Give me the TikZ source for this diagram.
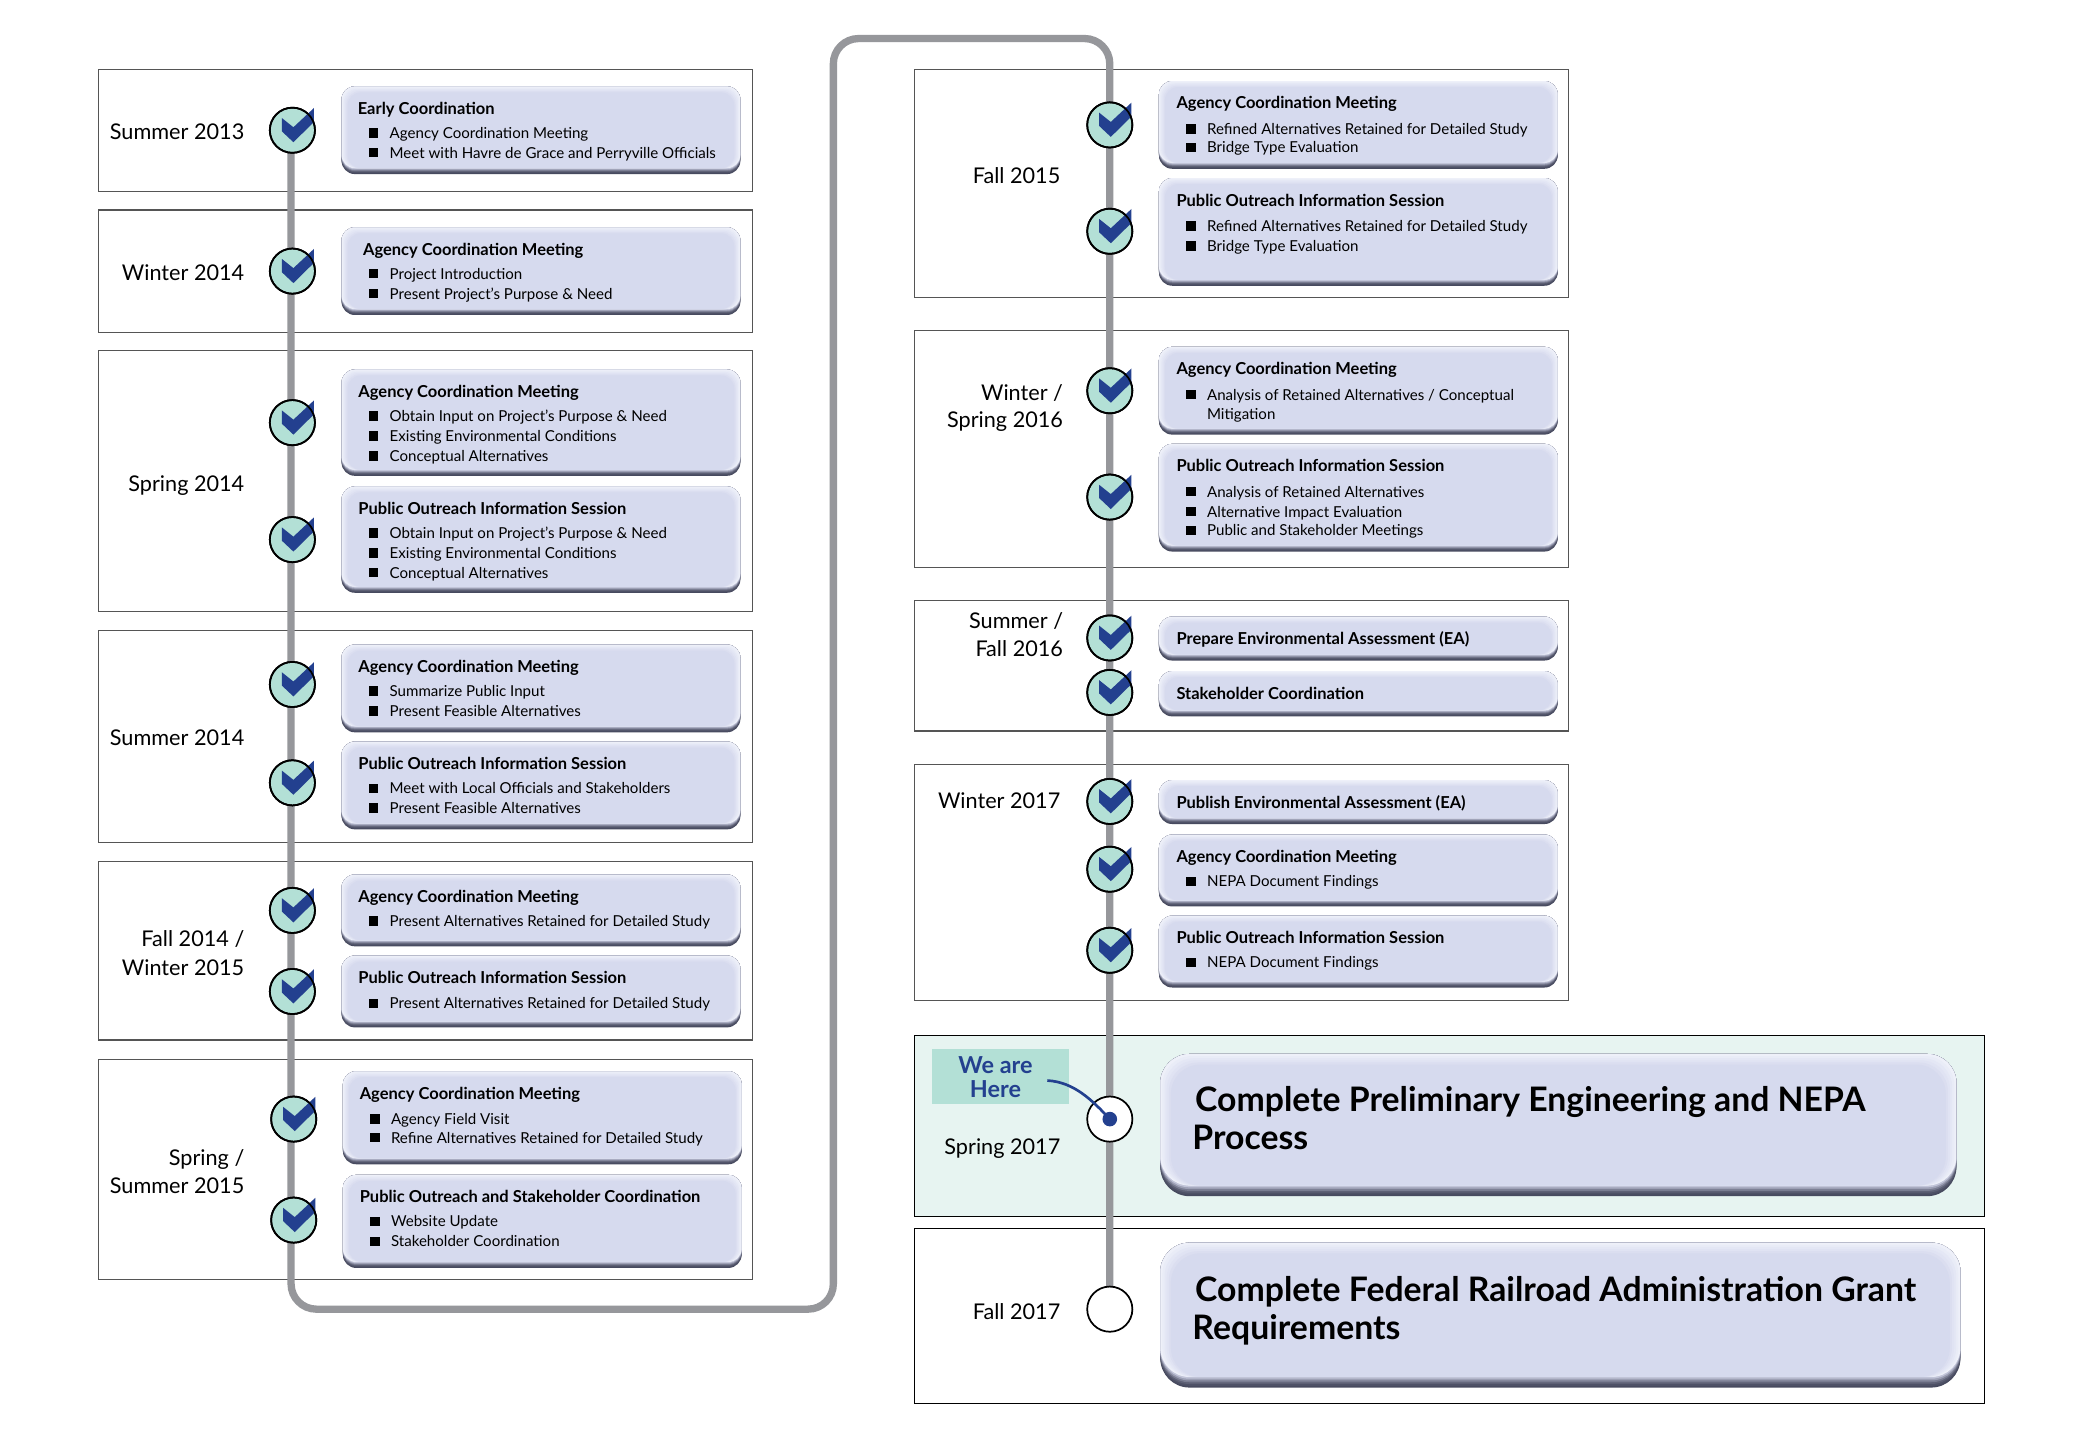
\documentclass[tikz,border=0pt]{standalone}
\usepackage{fontspec}
\setmainfont{Lato}
\definecolor{face}{HTML}{D6DAEE}
\definecolor{bevD}{HTML}{474A5F}
\definecolor{bevL}{HTML}{EEF0F9}
\definecolor{trackc}{HTML}{96979B}
\definecolor{mint}{HTML}{B3E0D6}
\definecolor{pale}{HTML}{E7F4F1}
\definecolor{tick}{HTML}{23408F}
\definecolor{panelc}{HTML}{555555}
\newcounter{tn}
\newcommand{\cbox}[6]{% x1 y1 x2 y2 radius bevel
  \foreach \i/\p in {0/100,1/95,2/85,3/65,4/40,5/15}{
    \fill[bevD!\p!face, rounded corners=#5pt] (#1,#2) rectangle (#3,{#4-\i*#6/6});
  }
  \foreach \i [evaluate=\i as \p using int(100-\i*100/5)] in {0,...,5}{
    \fill[bevL!\p!face, rounded corners=#5pt] ({#1+\i*#6/5},{#2+\i*#6/5}) rectangle ({#3-\i*#6/5},{#4-#6});
  }
}
\newcommand{\ttl}[3]{\stepcounter{tn}\node[titlet] (n\thetn) at (#1,#2+4) {#3};}
\newcommand{\bul}[3]{\stepcounter{tn}
  \fill ({#1-3.6},{#2-3.5}) rectangle ({#1+3.6},{#2+3.5});
  \node[bodyt] (n\thetn) at (#1+12,#2+4) {#3};}
\newcommand{\dat}[3]{\stepcounter{tn}\node[datet] (n\thetn) at (#1,#2+6) {#3};}
\newcommand{\bigline}[3]{\stepcounter{tn}\node[bigt] (n\thetn) at (#1,#2+9) {#3};}
\newcommand{\done}[3]{%
  \node[tcirc,fill=mint] (#1) at (#2,#3) {};
  \fill[tick] (#2-8,#3-9.25) -- (#2-8,#3+0.75) -- (#2+0.75,#3+9) -- (#2+16.25,#3-6.25) -- (#2+16.25,#3-16.75) -- (#2+0.75,#3-2.25) -- cycle;
  \node[tcirc] at (#1.center) {};
}
\tikzset{
  panel/.style={draw=panelc,line width=0.8pt},
  titlet/.style={anchor=base west,inner sep=0pt,font=\fontsize{12.4}{14}\selectfont\bfseries},
  bodyt/.style={anchor=base west,inner sep=0pt,font=\fontsize{11.35}{13}\selectfont},
  datet/.style={anchor=base east,inner sep=0pt,font=\fontsize{16.3}{18}\selectfont},
  bigt/.style={anchor=base west,inner sep=0pt,font=\fontsize{25.4}{27}\selectfont\bfseries},
  tcirc/.style={circle,draw=black,line width=1.3pt,minimum size=34pt,inner sep=0pt},
  trackline/.style={draw=trackc,line width=5.5pt,rounded corners=19pt},
}
\begin{document}
\begin{tikzpicture}[x=1pt,y=-1pt]
\useasboundingbox (0,0) rectangle (1568,1094);
\fill[white] (0,0) rectangle (1568,1094);
% panels
\draw[panel] (74,52) rectangle (566,144);
\draw[panel] (74,158) rectangle (566,250);
\draw[panel] (74,264) rectangle (566,460);
\draw[panel] (74,474.5) rectangle (566,634);
\draw[panel] (74,648) rectangle (566,782.5);
\draw[panel] (74,797) rectangle (566,963);
\draw[panel] (688,52) rectangle (1180,224);
\draw[panel] (688,249) rectangle (1180,427);
\draw[panel] (688,452) rectangle (1180,550);
\draw[panel] (688,575) rectangle (1180,753);
\draw[panel,fill=pale,draw=black] (688,779) rectangle (1493,915);
\draw[panel,draw=black] (688,924) rectangle (1493,1056);
% anchors of the track
\coordinate (tA) at (219,98);
\coordinate (tB) at (219,985);
\coordinate (tC) at (627,985);
\coordinate (tD) at (627,29);
\coordinate (tE) at (835,29);
\coordinate (tF) at (835,985);
\draw[trackline] (tA) -- (tB) -- (tC) -- (tD) -- (tE) -- (tF);
% left boxes
\cbox{257}{65}{557}{131}{10}{4.5}
\ttl{269}{82}{Early Coordination}
\bul{281}{100}{Agency Coordination Meeting}
\bul{281}{115}{Meet with Havre de Grace and Perryville Officials}
\cbox{257}{171}{557}{237}{10}{4.5}
\ttl{273}{188}{Agency Coordination Meeting}
\bul{281}{206}{Project Introduction}
\bul{281}{221}{Present Project’s Purpose \& Need}
\cbox{257}{278}{557}{358}{10}{4.5}
\ttl{269.5}{295}{Agency Coordination Meeting}
\bul{281}{313}{Obtain Input on Project’s Purpose \& Need}
\bul{281}{328}{Existing Environmental Conditions}
\bul{281}{343}{Conceptual Alternatives}
\cbox{257}{366}{557}{446}{10}{4.5}
\ttl{269.5}{383}{Public Outreach Information Session}
\bul{281}{401}{Obtain Input on Project’s Purpose \& Need}
\bul{281}{416}{Existing Environmental Conditions}
\bul{281}{431}{Conceptual Alternatives}
\cbox{257}{485}{557}{551}{10}{4.5}
\ttl{269.5}{502}{Agency Coordination Meeting}
\bul{281}{520}{Summarize Public Input}
\bul{281}{535}{Present Feasible Alternatives}
\cbox{257}{558}{557}{624}{10}{4.5}
\ttl{269.5}{575}{Public Outreach Information Session}
\bul{281}{593}{Meet with Local Officials and Stakeholders}
\bul{281}{608}{Present Feasible Alternatives}
\cbox{257}{658}{557}{712}{10}{4.5}
\ttl{269.5}{675}{Agency Coordination Meeting}
\bul{281}{693}{Present Alternatives Retained for Detailed Study}
\cbox{257}{719}{557}{773}{10}{4.5}
\ttl{269.5}{736}{Public Outreach Information Session}
\bul{281}{755}{Present Alternatives Retained for Detailed Study}
\cbox{258}{806}{558}{876}{10}{4.5}
\ttl{270.5}{823}{Agency Coordination Meeting}
\bul{282}{842}{Agency Field Visit}
\bul{282}{856}{Refine Alternatives Retained for Detailed Study}
\cbox{258}{884}{558}{954}{10}{4.5}
\ttl{270.5}{901}{Public Outreach and Stakeholder Coordination}
\bul{282}{919}{Website Update}
\bul{282}{934}{Stakeholder Coordination}
% right boxes
\cbox{872}{61}{1172}{127}{10}{4.5}
\ttl{885}{78}{Agency Coordination Meeting}
\bul{896}{97}{Refined Alternatives Retained for Detailed Study}
\bul{896}{111}{Bridge Type Evaluation}
\cbox{872}{134}{1172}{215}{10}{4.5}
\ttl{885}{151}{Public Outreach Information Session}
\bul{896}{170}{Refined Alternatives Retained for Detailed Study}
\bul{896}{185}{Bridge Type Evaluation}
\cbox{872}{261}{1172}{327}{10}{4.5}
\ttl{885}{278}{Agency Coordination Meeting}
\bul{896}{297}{Analysis of Retained Alternatives / Conceptual}
\stepcounter{tn}\node[bodyt] (n\thetn) at (908,316) {Mitigation};
\cbox{872}{334}{1172}{415}{10}{4.5}
\ttl{885}{351}{Public Outreach Information Session}
\bul{896}{370}{Analysis of Retained Alternatives}
\bul{896}{385}{Alternative Impact Evaluation}
\bul{896}{399}{Public and Stakeholder Meetings}
\cbox{872}{464}{1172}{497}{10}{4.5}
\ttl{885}{481}{Prepare Environmental Assessment (EA)}
\cbox{872}{505}{1172}{539}{10}{4.5}
\ttl{885}{522}{Stakeholder Coordination}
\cbox{872}{587}{1172}{620}{10}{4.5}
\ttl{885}{604}{Publish Environmental Assessment (EA)}
\cbox{872}{628}{1172}{682}{10}{4.5}
\ttl{885}{645}{Agency Coordination Meeting}
\bul{896}{663}{NEPA Document Findings}
\cbox{872}{689}{1172}{743}{10}{4.5}
\ttl{885}{706}{Public Outreach Information Session}
\bul{896}{724}{NEPA Document Findings}
\cbox{873}{793}{1472}{900}{22}{8}
\bigline{899}{827}{Complete Preliminary Engineering and NEPA}
\bigline{897}{856}{Process}
\cbox{873}{935}{1475}{1044}{22}{8}
\bigline{899}{970}{Complete Federal Railroad Administration Grant}
\bigline{897}{999}{Requirements}
% dates
\dat{184}{99}{Summer 2013}
\dat{184}{205}{Winter 2014}
\dat{184}{364}{Spring 2014}
\dat{184}{555}{Summer 2014}
\dat{184}{706}{Fall 2014 /}
\dat{184}{728}{Winter 2015}
\dat{184}{871}{Spring /}
\dat{184}{892}{Summer 2015}
\dat{798}{132}{Fall 2015}
\dat{800}{295}{Winter /}
\dat{800}{316}{Spring 2016}
\dat{800}{467}{Summer /}
\dat{800}{488}{Fall 2016}
\dat{798}{602}{Winter 2017}
\dat{798}{863}{Spring 2017}
\dat{798}{987}{Fall 2017}
% milestones
\done{c1}{220}{98}
\done{c2}{220}{204}
\done{c3}{220}{318}
\done{c4}{220}{406}
\done{c5}{220}{515}
\done{c6}{220}{589}
\done{c7}{220}{685}
\done{c8}{220}{746}
\done{c9}{221}{842}
\done{c10}{221}{918}
\done{d1}{835}{94}
\done{d2}{835}{174}
\done{d3}{835}{294}
\done{d4}{835}{374}
\done{d5}{835}{480}
\done{d6}{835}{521}
\done{d7}{835}{603}
\done{d8}{835}{654}
\done{d9}{835}{715}
\node[tcirc,fill=white] (now) at (835,842) {};
\node[tcirc,fill=white] (last) at (835,985) {};
% we are here
\node[fill=mint,minimum width=103pt,minimum height=42pt,inner sep=0pt] (here) at (752.5,810) {};
\node[font=\fontsize{17.6}{18}\selectfont\bfseries,text=tick,align=center,inner sep=0pt] (herelabel) at (749,810.5) {We are\\Here};
\coordinate (hereTail) at (788,813);
\draw[tick,line width=2pt] (hereTail) .. controls (808,814) and (822,828) .. (now.center);
\node[circle,fill=tick,minimum size=11pt,inner sep=0pt] (nowdot) at (now.center) {};
\end{tikzpicture}
\end{document}
